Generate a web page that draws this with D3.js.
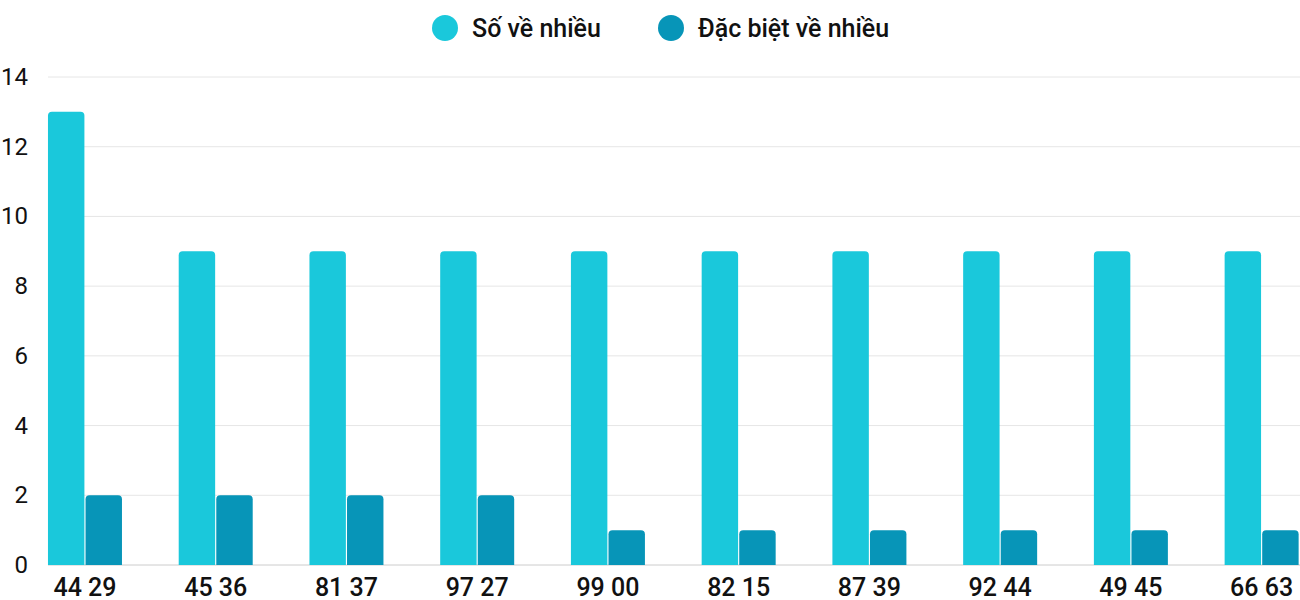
<!DOCTYPE html>
<html><head><meta charset="utf-8">
<script src="https://cdn.jsdelivr.net/npm/d3@7"></script>
<style>body{margin:0;background:#fff;font-family:Roboto,sans-serif}</style>
</head><body><svg id="c" width="1300" height="600"></svg>
<script>
var categories = ["44 29","45 36","81 37","97 27","99 00","82 15","87 39","92 44","49 45","66 63"];
var soVeNhieu = [13,9,9,9,9,9,9,9,9,9];
var dacBiet = [2,2,2,2,1,1,1,1,1,1];
var seriesNames = ["Số về nhiều","Đặc biệt về nhiều"];
var colors = ["#1ac8db","#0795b8"];
var yTicks = [0,2,4,6,8,10,12,14];

var svg = d3.select("#c");
var y = d3.scaleLinear().domain([0,14]).range([565,77]);
var x0 = d3.scaleBand().domain(categories).range([19.6,1327]);
var x1 = d3.scaleBand().domain([0,1]).range([x0.bandwidth()/2-37, x0.bandwidth()/2+37]).paddingInner(0.03);

svg.append("g").selectAll("line").data(yTicks).join("line")
  .attr("x1",48).attr("x2",1300).attr("y1",d=>y(d)).attr("y2",d=>y(d))
  .attr("stroke",d=>d==0?"#ccc":"#e6e6e6");
svg.append("g").selectAll("text").data(yTicks).join("text")
  .attr("x",28).attr("y",d=>y(d)+8).attr("text-anchor","end")
  .attr("font-size",24).attr("fill","#111").text(d=>d);

function topRounded(x,yy,w,h,r){
  return "M"+x+","+(yy+h)+"V"+(yy+r)+"Q"+x+","+yy+" "+(x+r)+","+yy+"H"+(x+w-r)+"Q"+(x+w)+","+yy+" "+(x+w)+","+(yy+r)+"V"+(yy+h)+"Z";
}
var g = svg.append("g").selectAll("g").data(categories).join("g")
  .attr("transform",d=>"translate("+x0(d)+",0)");
g.selectAll("path").data((d,i)=>[soVeNhieu[i],dacBiet[i]]).join("path")
  .attr("fill",(d,j)=>colors[j])
  .attr("d",(d,j)=>topRounded(x1(j),y(d),x1.bandwidth(),y(0)-y(d),4));
g.append("text").attr("x",x0.bandwidth()/2).attr("y",596).attr("text-anchor","middle")
  .attr("font-size",25).attr("font-weight",500).attr("fill","#111").text(d=>d);

var lg = svg.append("g");
var lx = [445,671];
seriesNames.forEach(function(n,i){
  lg.append("circle").attr("cx",lx[i]).attr("cy",28).attr("r",13).attr("fill",colors[i]);
  lg.append("text").attr("x",lx[i]+27).attr("y",37).attr("font-size",25).attr("font-weight",500).attr("fill","#111").text(n);
});
</script></body></html>
